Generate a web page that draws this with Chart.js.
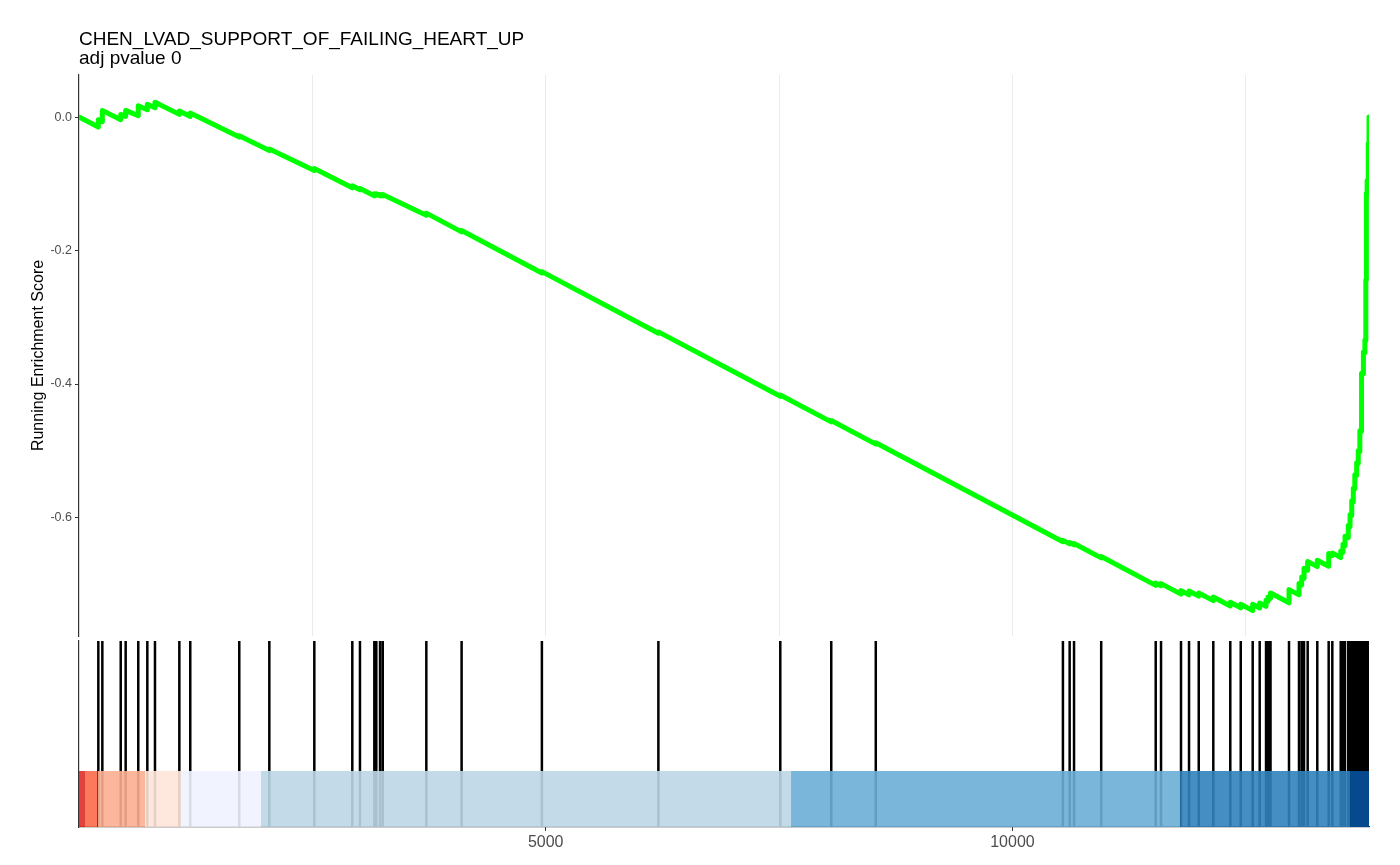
<!DOCTYPE html>
<html>
<head>
<meta charset="utf-8">
<script src="https://cdn.jsdelivr.net/npm/chart.js@4.4.1/dist/chart.umd.min.js"></script>
<style>
  html, body { margin: 0; padding: 0; background: #ffffff; }
  #wrap { position: relative; width: 1400px; height: 865px; }
  canvas { position: absolute; left: 0; }
  #esChart { top: 0; }
  #hitChart { top: 636px; }
</style>
</head>
<body>
<div id="wrap">
  <canvas id="esChart" width="1400" height="650"></canvas>
  <canvas id="hitChart" width="1400" height="229"></canvas>
</div>
<script>
// gene set and ranked list
const geneSetName = 'CHEN_LVAD_SUPPORT_OF_FAILING_HEART_UP';
const subTitle = 'adj pvalue 0';
const listSize = 13820;

// positions of the gene set members in the ranked list
const hitRanks = [
    207, 250, 447, 500, 635, 732, 814, 1075, 1192, 1717, 2039, 2521, 2928, 3010,
    3164, 3185, 3225, 3254, 3721, 4099, 4959, 6207, 7513, 8059, 8536,
    10541, 10613, 10660, 10951, 11535, 11592, 11806, 11892, 11996, 12152, 12334,
    12446, 12574, 12649, 12717, 12738, 12765, 12963, 13070, 13099, 13124, 13163,
    13266, 13388, 13427, 13517, 13541, 13563, 13598, 13617, 13635, 13652, 13668,
    13688, 13705, 13722, 13740, 13760, 13776, 13786, 13792, 13800, 13812, 13820
];

// running enrichment score (rank, score) - step before / after each hit
const esRank = [
    0,
    207, 207, 250, 250, 447, 447, 500, 500, 635, 635, 732, 732, 814, 814,
    1075, 1075, 1192, 1192, 1717, 1717, 2039, 2039, 2521, 2521, 2928, 2928,
    3010, 3010, 3164, 3164, 3185, 3185, 3225, 3225, 3254, 3254, 3721, 3721,
    4099, 4099, 4959, 4959, 6207, 6207, 7513, 7513, 8059, 8059, 8536, 8536,
    10541, 10541, 10613, 10613, 10660, 10660, 10951, 10951, 11535, 11535,
    11592, 11592, 11806, 11806, 11892, 11892, 11996, 11996, 12152, 12152,
    12334, 12334, 12446, 12446, 12574, 12574, 12649, 12649, 12717, 12717,
    12738, 12738, 12765, 12765, 12963, 12963, 13070, 13070, 13099, 13099,
    13124, 13124, 13163, 13163, 13266, 13266, 13388, 13388, 13427, 13427,
    13517, 13517, 13541, 13541, 13563, 13563, 13598, 13598, 13617, 13617,
    13635, 13635, 13652, 13652, 13668, 13668, 13688, 13688, 13705, 13705,
    13722, 13722, 13740, 13740, 13760, 13760, 13776, 13776, 13786, 13786,
    13792, 13792, 13800, 13800, 13812, 13812, 13820, 13820
];
const esScore = [
    0.000,
    -0.015, -0.004, -0.007, 0.010, -0.004, 0.004, 0.001, 0.010, 0.002, 0.017, 0.011, 0.019, 0.014, 0.022,
    0.004, 0.009, 0.001, 0.006, -0.030, -0.028, -0.050, -0.048, -0.080, -0.077, -0.106, -0.103,
    -0.109, -0.107, -0.118, -0.115, -0.117, -0.115, -0.118, -0.116, -0.118, -0.116, -0.147, -0.144,
    -0.172, -0.170, -0.2336, -0.2316, -0.3239, -0.3219, -0.4184, -0.4164, -0.4567, -0.4547, -0.4900, -0.4880,
    -0.6362, -0.6342, -0.6395, -0.6375, -0.6410, -0.6390, -0.6605, -0.6585, -0.7017, -0.6980,
    -0.7021, -0.6990, -0.7148, -0.7095, -0.7159, -0.7100, -0.7177, -0.7130, -0.7245, -0.7190,
    -0.7325, -0.7270, -0.7352, -0.7300, -0.7395, -0.7300, -0.7355, -0.7280, -0.7330, -0.7240,
    -0.7256, -0.7190, -0.7210, -0.7130, -0.7277, -0.7080, -0.7159, -0.6990, -0.7010, -0.6890,
    -0.6910, -0.6760, -0.6790, -0.6660, -0.6736, -0.6640, -0.6730, -0.6540, -0.6569, -0.6530,
    -0.6600, -0.6500, -0.6520, -0.6400, -0.6420, -0.6280, -0.6300, -0.6120, -0.6140, -0.5960,
    -0.5970, -0.5750, -0.5770, -0.5560, -0.5570, -0.5360, -0.5370, -0.5180, -0.5190, -0.5000,
    -0.5010, -0.4700, -0.4710, -0.3840, -0.3850, -0.3520, -0.3530, -0.3340, -0.3350, -0.2440,
    -0.2440, -0.1140, -0.1150, -0.0950, -0.0960, -0.0400, -0.0410, 0.0000
];

// ranked list colour bar: segment edges and colours
const barEdges = [0, 64, 200, 707, 1093, 1950, 7628, 11796, 13617, 13820];
const barColors = ['#DE2D26', '#FB6A4A', '#FCAE91', '#FEE5D9', '#EFF3FF', '#BDD7E7', '#6BAED6', '#3182BD', '#08519C'];

const yTicks = [-0.6, -0.4, -0.2, 0];
const xGridTicks = [2500, 5000, 7500, 10000, 12500];
const xLabelTicks = [5000, 10000];

const fontFamily = '"Liberation Sans", Arial, sans-serif';
const axisColor = '#333333';

function withAlpha(hex, a) {
    const n = parseInt(hex.slice(1), 16);
    return `rgba(${(n >> 16) & 255}, ${(n >> 8) & 255}, ${n & 255}, ${a})`;
}

// draws the two title lines left aligned on the panel
const titleText = {
    id: 'titleText',
    afterDraw(chart) {
        const { ctx, chartArea: { left } } = chart;
        ctx.save();
        ctx.fillStyle = '#000000';
        ctx.textAlign = 'left';
        ctx.textBaseline = 'alphabetic';
        ctx.font = '19px ' + fontFamily;
        ctx.fillText(geneSetName, left, 45);
        ctx.fillText(subTitle, left, 64);
        ctx.restore();
    }
};

// top panel: running enrichment score
new Chart(document.getElementById('esChart'), {
    type: 'line',
    data: {
        datasets: [{
            data: esRank.map((r, i) => ({ x: r, y: esScore[i] })),
            borderColor: '#00FF00',
            borderWidth: 5,
            borderJoinStyle: 'round',
            borderCapStyle: 'round',
            pointRadius: 0,
            tension: 0
        }]
    },
    options: {
        responsive: false,
        animation: false,
        layout: { padding: { top: 75, right: 31, left: 0, bottom: 0 } },
        scales: {
            x: {
                type: 'linear',
                min: 0,
                max: listSize,
                afterBuildTicks: (s) => { s.ticks = xGridTicks.map(v => ({ value: v })); },
                afterFit: (s) => { s.height = 14; },
                ticks: { display: false },
                grid: { color: '#EBEBEB', lineWidth: 1, drawTicks: false },
                border: { display: false }
            },
            y: {
                min: -0.7775,
                max: 0.063,
                afterBuildTicks: (s) => { s.ticks = yTicks.map(v => ({ value: v })); },
                afterFit: (s) => { s.width = 79; },
                ticks: {
                    color: '#4D4D4D',
                    font: { family: fontFamily, size: 12.5 },
                    padding: 3,
                    callback: (v) => (Math.abs(v) < 1e-9 ? 0 : v).toFixed(1)
                },
                grid: { drawOnChartArea: false, drawTicks: true, tickLength: 4, color: axisColor },
                border: { display: true, color: axisColor, width: 1.2 },
                title: {
                    display: true,
                    text: 'Running Enrichment Score',
                    color: '#000000',
                    font: { family: fontFamily, size: 16 },
                    padding: { top: 29, bottom: 0 }
                }
            }
        },
        plugins: { legend: { display: false }, tooltip: { enabled: false } }
    },
    plugins: [titleText]
});

// bottom panel: hit lines and ranked list colour bar
const barTop = 0.301;
const hitData = [];
hitRanks.forEach(h => {
    hitData.push({ x: h, y: 0 }, { x: h, y: 1 }, { x: h, y: null });
});

const barSets = barColors.map((c, i) => ({
    data: [{ x: barEdges[i], y: barTop }, { x: barEdges[i + 1], y: barTop }],
    fill: 'origin',
    backgroundColor: withAlpha(c, 0.9),
    borderColor: 'rgba(0,0,0,0)',
    borderWidth: 0,
    pointRadius: 0,
    order: 1
}));

new Chart(document.getElementById('hitChart'), {
    type: 'line',
    data: {
        datasets: [{
            data: hitData,
            borderColor: '#000000',
            borderWidth: 2.5,
            pointRadius: 0,
            spanGaps: false,
            order: 2
        }, ...barSets]
    },
    options: {
        responsive: false,
        animation: false,
        layout: { padding: { top: 5, right: 31, left: 0, bottom: 0 } },
        scales: {
            x: {
                type: 'linear',
                min: 0,
                max: listSize,
                afterBuildTicks: (s) => { s.ticks = xLabelTicks.map(v => ({ value: v })); },
                afterFit: (s) => { s.height = 38; },
                ticks: {
                    color: '#4D4D4D',
                    font: { family: fontFamily, size: 16 },
                    padding: 2,
                    maxRotation: 0,
                    callback: (v) => String(v)
                },
                grid: { drawOnChartArea: false, drawTicks: true, tickLength: 4, color: axisColor },
                border: { display: true, color: axisColor, width: 1.2 }
            },
            y: {
                min: 0,
                max: 1,
                afterFit: (s) => { s.width = 79; },
                ticks: { display: false },
                grid: { display: false },
                border: { display: true, color: axisColor, width: 1.2 }
            }
        },
        plugins: { legend: { display: false }, tooltip: { enabled: false } }
    }
});
</script>
</body>
</html>
